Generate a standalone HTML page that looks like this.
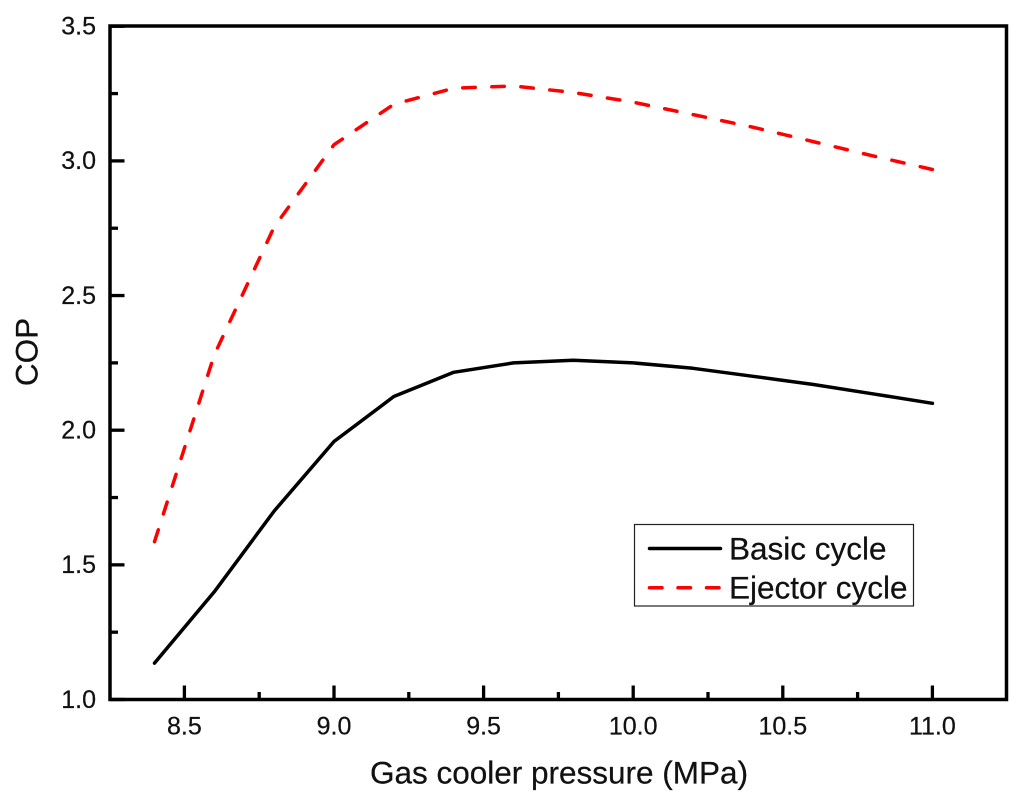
<!DOCTYPE html>
<html>
<head>
<meta charset="utf-8">
<style>
html,body{margin:0;padding:0;background:#fff;}
svg{display:block;}
text{font-family:"Liberation Sans",Arial,sans-serif;fill:#111;stroke:#111;stroke-width:0.25;}
</style>
</head>
<body>
<svg id="chart" xmlns="http://www.w3.org/2000/svg" width="1024" height="807" viewBox="0 0 1024 807">
<rect width="1024" height="807" fill="#fff"/>
<g id="lines"></g>
<g id="axes"></g>
<rect x="110" y="26" width="896.5" height="673.5" fill="none" stroke="#000" stroke-width="3.5"/>
<text x="559" y="783.5" font-size="31.5" text-anchor="middle">Gas cooler pressure (MPa)</text>
<text transform="translate(37.7,352) rotate(-90)" font-size="31.5" text-anchor="middle">COP</text>
<g>
<rect x="634.5" y="524.5" width="279" height="81.5" fill="#fff" stroke="#222" stroke-width="1.2"/>
<line x1="649.5" y1="548.5" x2="720.5" y2="548.5" stroke="#000" stroke-width="3.5" stroke-linecap="round"/>
<text x="729" y="559.5" font-size="31.5">Basic cycle</text>
<line x1="649.5" y1="587.7" x2="720.5" y2="587.7" stroke="#f00" stroke-width="3.5" stroke-linecap="round" stroke-dasharray="12.5 16"/>
<text x="729" y="598.5" font-size="31.5">Ejector cycle</text>
</g>
</svg>
<script>
const pressures = [8.4, 8.6, 8.8, 9.0, 9.2, 9.4, 9.6, 9.8, 10.0, 10.2, 10.4, 10.6, 10.8, 11.0];
const basicCycle = [1.135, 1.40, 1.70, 1.958, 2.125, 2.215, 2.25, 2.26, 2.25, 2.23, 2.20, 2.17, 2.135, 2.10];
const ejectorCycle = [1.586, 2.28, 2.755, 3.06, 3.21, 3.27, 3.278, 3.254, 3.218, 3.172, 3.125, 3.072, 3.019, 2.968];
const xTickLabels = ["8.5", "9.0", "9.5", "10.0", "10.5", "11.0"];
const xMinorTicks = [8.75, 9.25, 9.75, 10.25, 10.75];
const yTickLabels = ["1.0", "1.5", "2.0", "2.5", "3.0", "3.5"];
const yMinorTicks = [1.25, 1.75, 2.25, 2.75, 3.25];

const NS = 'http://www.w3.org/2000/svg';
function xScale(v){ return 184.4 + (v - 8.5) * 299.2; }
function yScale(v){ return 699.5 - (v - 1.0) * 269.3; }
function make(tag, attrs, parent){
  const el = document.createElementNS(NS, tag);
  for (const k in attrs) el.setAttribute(k, attrs[k]);
  parent.appendChild(el);
  return el;
}
const axes = document.getElementById('axes');
const lines = document.getElementById('lines');

xTickLabels.forEach(function(t){
  const x = xScale(parseFloat(t));
  const tick = make('line', {x1:x, x2:x, y1:699.5, y2:685.5, stroke:'#000', 'stroke-width':3.3}, axes);
  
  
  const label = make('text', {x:x, y:734.5, 'font-size':25, 'text-anchor':'middle'}, axes);
  
  
  label.textContent = t;
});
xMinorTicks.forEach(function(v){
  const x = xScale(v);
  const tick = make('line', {x1:x, x2:x, y1:699.5, y2:692, stroke:'#000', 'stroke-width':3.3}, axes);
  
  
});
yTickLabels.forEach(function(t){
  const y = yScale(parseFloat(t));
  const tick = make('line', {x1:110, x2:124.5, y1:y, y2:y, stroke:'#000', 'stroke-width':3.3}, axes);
  
  
  const label = make('text', {x:96, y:y + 8.3, 'font-size':25, 'text-anchor':'end'}, axes);
  
  
  label.textContent = t;
});
yMinorTicks.forEach(function(v){
  const y = yScale(v);
  const tick = make('line', {x1:110, x2:118, y1:y, y2:y, stroke:'#000', 'stroke-width':3.3}, axes);
  
  
});
function pointsFor(values){
  return values.map(function(v, i){ return xScale(pressures[i]).toFixed(1) + ',' + yScale(v).toFixed(1); }).join(' ');
}
const basicLine = make('polyline', {points:pointsFor(basicCycle), fill:'none', stroke:'#000', 'stroke-width':3.5, 'stroke-linejoin':'round', 'stroke-linecap':'round'}, lines);


const ejectorLine = make('polyline', {points:pointsFor(ejectorCycle), fill:'none', stroke:'#f00', 'stroke-width':3.5, 'stroke-linejoin':'round', 'stroke-linecap':'round'}, lines);


// Fit the dash period so the last dash finishes at the final data point.
const dashLength = 12.5;
const pathLength = ejectorLine.getTotalLength();
const dashCount = Math.round((pathLength - dashLength) / 29.5);
const dashPeriod = (pathLength - dashLength) / dashCount;
ejectorLine.setAttribute('stroke-dasharray', dashLength + ' ' + (dashPeriod - dashLength).toFixed(3));
</script>
</body>
</html>
